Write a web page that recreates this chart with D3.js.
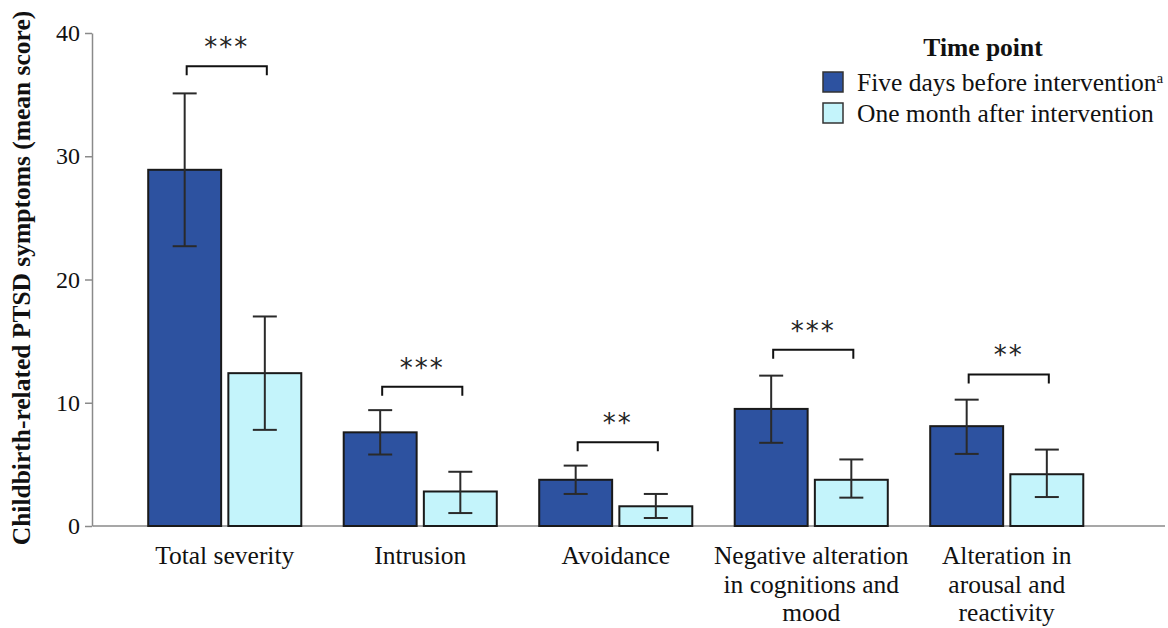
<!DOCTYPE html>
<html>
<head>
<meta charset="utf-8">
<script src="https://cdn.jsdelivr.net/npm/d3@7"></script>
<style>
  body { margin: 0; background: #fff; }
</style>
</head>
<body>
<div id="chart"></div>
<script>
// Data
const categories = ['Total severity', 'Intrusion', 'Avoidance', 'Negative alteration in cognitions and mood', 'Alteration in arousal and reactivity'];
const categoryLines = [
    ['Total severity'],
    ['Intrusion'],
    ['Avoidance'],
    ['Negative alteration', 'in cognitions and', 'mood'],
    ['Alteration in', 'arousal and', 'reactivity']
];
const seriesNames = ['Five days before intervention', 'One month after intervention'];
const beforeMean = [28.9, 7.6, 3.75, 9.5, 8.1];
const beforeLow = [22.7, 5.8, 2.6, 6.75, 5.85];
const beforeHigh = [35.1, 9.4, 4.9, 12.2, 10.25];
const afterMean = [12.4, 2.8, 1.6, 3.75, 4.2];
const afterLow = [7.8, 1.05, 0.65, 2.3, 2.35];
const afterHigh = [17.0, 4.4, 2.6, 5.4, 6.2];
const significance = ['***', '***', '**', '***', '**'];
const bracketLevel = [37.3, 11.3, 6.8, 14.3, 12.3];
const yTicks = [0, 10, 20, 30, 40];

const colors = ['#2d52a0', '#c4f4fb'];
const serif = '"Liberation Serif", "Times New Roman", Tinos, serif';

const W = 1168, H = 628;
const svg = d3.select('#chart').append('svg')
    .attr('width', W)
    .attr('height', H)
    .style('font-family', serif);

const y = d3.scaleLinear().domain([0, 40]).range([526, 33]);
const x0 = d3.scaleBand().domain(categories).range([127, 1104.5])
    .paddingInner(0.217).paddingOuter(0.1085);
const x1 = d3.scaleBand().domain(seriesNames).range([0, x0.bandwidth()]).paddingInner(0.09);

const rows = categories.map((c, i) => ({
    cat: c,
    bars: [
        { s: seriesNames[0], v: beforeMean[i], lo: beforeLow[i], hi: beforeHigh[i], c: colors[0] },
        { s: seriesNames[1], v: afterMean[i], lo: afterLow[i], hi: afterHigh[i], c: colors[1] }
    ],
    sig: significance[i],
    br: bracketLevel[i],
    lines: categoryLines[i]
}));

// axes
const axisColor = '#8a8a8a';
svg.append('line')
    .attr('x1', 93).attr('x2', 1165)
    .attr('y1', y(0)).attr('y2', y(0))
    .attr('stroke', axisColor).attr('stroke-width', 1.5);

const yAxis = svg.append('g')
    .attr('transform', 'translate(92,0)')
    .call(d3.axisLeft(y).tickValues(yTicks).tickSize(7).tickSizeOuter(0).tickPadding(5));
yAxis.select('.domain').attr('stroke', axisColor).attr('stroke-width', 1.5);
yAxis.selectAll('.tick line').attr('stroke', axisColor).attr('stroke-width', 1.5);
yAxis.selectAll('.tick text')
    .style('font-family', serif)
    .style('font-size', '24px')
    .attr('fill', '#111');

svg.append('text')
    .attr('transform', 'translate(30,278) rotate(-90)')
    .attr('text-anchor', 'middle')
    .style('font-size', '25.5px')
    .style('font-weight', 'bold')
    .attr('fill', '#111')
    .text('Childbirth-related PTSD symptoms (mean score)');

// bars
const groups = svg.selectAll('.grp')
    .data(rows)
    .enter()
    .append('g')
    .attr('class', 'grp')
    .attr('transform', d => `translate(${x0(d.cat)},0)`);

groups.selectAll('rect')
    .data(d => d.bars)
    .enter()
    .append('rect')
    .attr('x', d => x1(d.s))
    .attr('width', x1.bandwidth())
    .attr('y', d => y(d.v))
    .attr('height', d => y(0) - y(d.v))
    .attr('fill', d => d.c)
    .attr('stroke', '#1a1a1a')
    .attr('stroke-width', 2);

// error bars
const cap = 12;
const err = groups.selectAll('.err')
    .data(d => d.bars)
    .enter()
    .append('g')
    .attr('class', 'err')
    .attr('stroke', '#2a2a2a')
    .attr('stroke-width', 2);
err.append('line')
    .attr('x1', d => x1(d.s) + x1.bandwidth() / 2)
    .attr('x2', d => x1(d.s) + x1.bandwidth() / 2)
    .attr('y1', d => y(d.lo))
    .attr('y2', d => y(d.hi));
err.append('line')
    .attr('x1', d => x1(d.s) + x1.bandwidth() / 2 - cap)
    .attr('x2', d => x1(d.s) + x1.bandwidth() / 2 + cap)
    .attr('y1', d => y(d.hi))
    .attr('y2', d => y(d.hi));
err.append('line')
    .attr('x1', d => x1(d.s) + x1.bandwidth() / 2 - cap)
    .attr('x2', d => x1(d.s) + x1.bandwidth() / 2 + cap)
    .attr('y1', d => y(d.lo))
    .attr('y2', d => y(d.lo));

// significance brackets
const cx = s => x1(s) + x1.bandwidth() / 2;
groups.append('path')
    .attr('d', d => {
        const a = cx(seriesNames[0]) + 2, b = cx(seriesNames[1]) + 2, yy = y(d.br);
        return `M${a},${yy + 9}V${yy}H${b}V${yy + 9}`;
    })
    .attr('fill', 'none')
    .attr('stroke', '#111')
    .attr('stroke-width', 2);
groups.append('text')
    .attr('x', (cx(seriesNames[0]) + cx(seriesNames[1])) / 2 + 2)
    .attr('y', d => y(d.br) - 10)
    .attr('text-anchor', 'middle')
    .style('font-size', '26px')
    .style('font-family', '"DejaVu Sans", sans-serif')
    .attr('letter-spacing', 2)
    .attr('fill', '#222')
    .text(d => d.sig);

// category labels
groups.append('text')
    .attr('x', x0.bandwidth() / 2)
    .attr('y', 564)
    .attr('text-anchor', 'middle')
    .style('font-size', '25.5px')
    .attr('fill', '#111')
    .selectAll('tspan')
    .data(d => d.lines)
    .enter()
    .append('tspan')
    .attr('x', x0.bandwidth() / 2)
    .attr('dy', (d, i) => i === 0 ? 0 : 28.5)
    .text(d => d);

// legend
const legend = svg.append('g').attr('transform', 'translate(823,0)');
legend.append('text')
    .attr('x', 160).attr('y', 56)
    .attr('text-anchor', 'middle')
    .style('font-size', '25.5px')
    .style('font-weight', 'bold')
    .attr('fill', '#111')
    .text('Time point');
const li = legend.selectAll('.li')
    .data(seriesNames)
    .enter()
    .append('g')
    .attr('class', 'li')
    .attr('transform', (d, i) => `translate(0,${72 + i * 31})`);
li.append('rect')
    .attr('width', 20).attr('height', 20)
    .attr('fill', (d, i) => colors[i])
    .attr('stroke', '#333')
    .attr('stroke-width', 1.5);
const lt = li.append('text')
    .attr('x', 34).attr('y', 19)
    .style('font-size', '25.5px')
    .attr('fill', '#111')
    .text(d => d);
lt.filter((d, i) => i === 0)
    .append('tspan')
    .attr('dy', -8)
    .style('font-size', '15px')
    .text('a');
</script>
</body>
</html>
